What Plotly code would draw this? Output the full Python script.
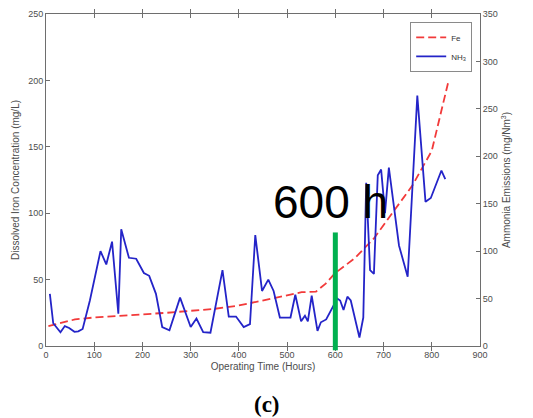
import plotly.graph_objects as go

# Dissolved iron (left axis, mg/L)
fe_hours = [5, 30, 60, 100, 150, 200, 250, 300, 350, 400, 450, 500, 530, 560, 580, 600, 640, 680, 720, 760, 800, 835]
fe_values = [15, 17.5, 20, 21.5, 22.5, 23.5, 25, 26.5, 28, 30.5, 34.5, 38.5, 40.5, 41, 47, 55, 66, 81, 101, 121, 147, 200]

# Ammonia emissions (right axis, mg/Nm3)
nh3_hours = [8, 15, 30, 39, 48, 59, 67, 76, 91, 113, 125, 137, 150, 156, 172, 187, 203, 214, 228, 241, 256,
             278, 300, 312, 326, 341, 366, 379, 394, 410, 423, 434, 448, 461, 472, 485, 507, 517, 529, 537,
             543, 551, 563, 570, 581, 593, 604, 610, 617, 625, 632, 650, 658, 664, 672, 680, 688, 695, 703,
             711, 732, 750, 770, 787, 798, 820, 828]
nh3_values = [55, 24, 14.5, 21, 19, 15, 15.5, 18, 48, 100, 86, 110, 34, 123, 93, 92, 77, 74, 55, 20, 16.6,
              51, 20, 29, 14.5, 14, 80, 31, 31, 20, 23, 117, 58, 70, 58, 30, 30, 54, 26, 32,
              26, 53, 16, 25, 28, 40, 50, 48, 38, 52, 48, 9, 30, 172, 80, 76, 180, 186, 140,
              188, 106, 73, 264, 152, 156, 185, 176]

x_ticks = list(range(0, 1000, 100))
left_ticks = list(range(0, 300, 50))
right_ticks = list(range(0, 400, 50))

marker_hour = 600

tick_font = dict(family="Liberation Sans, Arial, sans-serif", size=9, color="#4d4d4d")
title_font = dict(family="Liberation Sans, Arial, sans-serif", size=10, color="#4d4d4d")
axis_col = "#6e6e6e"

fig = go.Figure()
fig.add_trace(go.Scatter(
    x=fe_hours, y=fe_values, mode="lines", name="Fe",
    line=dict(color="#f23a3a", width=1.8, dash="8px,4px"), yaxis="y"))
fig.add_trace(go.Scatter(
    x=nh3_hours, y=nh3_values, mode="lines", name="NH<sub>3</sub>",
    line=dict(color="#2424c8", width=1.8), yaxis="y2"))

fig.update_layout(
    width=533, height=418,
    margin=dict(l=46, r=53, t=9, b=71.5),
    paper_bgcolor="white", plot_bgcolor="white",
    showlegend=True,
    legend=dict(x=0.982, y=0.976, xanchor="right", yanchor="top",
                bgcolor="white", bordercolor="#8a8a8a", borderwidth=1,
                font=dict(family="Liberation Sans, Arial, sans-serif", size=8, color="#333"),
                tracegroupgap=0, itemwidth=30),
    xaxis=dict(range=[0, 900], tickvals=x_ticks, ticks="inside", ticklen=4,
               tickcolor=axis_col, showline=True, linecolor=axis_col, linewidth=1,
               mirror="allticks", showgrid=False, zeroline=False, tickfont=tick_font,
               title=dict(text="Operating Time (Hours)", font=title_font, standoff=4)),
    yaxis=dict(range=[0, 250], tickvals=left_ticks, ticks="inside", ticklen=4,
               tickcolor=axis_col, showline=True, linecolor=axis_col, linewidth=1,
               showgrid=False, zeroline=False, tickfont=tick_font,
               title=dict(text="Dissolved Iron Concentration (mg/L)", font=title_font, standoff=6)),
    yaxis2=dict(range=[0, 350], tickvals=right_ticks, ticks="inside", ticklen=4,
                tickcolor=axis_col, showline=True, linecolor=axis_col, linewidth=1,
                overlaying="y", side="right", showgrid=False, zeroline=False,
                tickfont=tick_font,
                title=dict(text="Ammonia Emissions (mg/Nm<sup>3</sup>)", font=title_font, standoff=6)),
)

# green marker line at 600 h
fig.add_shape(type="line", xref="x", yref="paper", x0=marker_hour, x1=marker_hour,
              y0=-0.013, y1=0.342, line=dict(color="#00b04f", width=5), layer="above")

fig.add_annotation(x=590, y=108.5, xref="x", yref="y", text="600 h", showarrow=False,
                   font=dict(family="Liberation Sans, Arial, sans-serif", size=46, color="black"))

fig.add_annotation(x=0.509, y=-0.175, xref="paper", yref="paper", text="<b>(c)</b>",
                   showarrow=False, yanchor="middle",
                   font=dict(family="Liberation Serif, Times New Roman, serif", size=23, color="black"))

fig.write_html("out.html")
